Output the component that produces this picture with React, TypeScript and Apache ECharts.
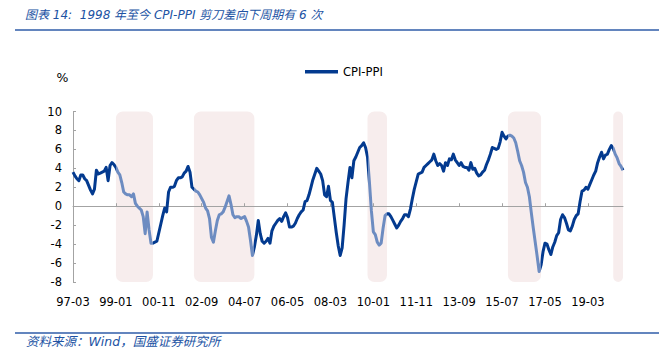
import { useEffect, useRef } from 'react';
import * as echarts from 'echarts';

// Monthly series, starting 1997-03
const startYear = 1997;
const startMonth = 3;

const cpiPpiGap: number[] = [
  3.6, 3.2, 2.9, 2.7, 3.3, 3.3, 2.9, 2.7, 2.2, 1.7, 1.3, 1.8,
  3.8, 3.4, 3.5, 3.6, 3.7, 4.1, 2.7, 4.3, 4.6, 4.4, 4.1, 3.6,
  3.3, 2.5, 1.5, 1.3, 1.2, 1.2, 1.0, 1.3, 0.3, 0.0, -0.2, -0.4,
  -1.1, -2.9, -0.6, -2.5, -3.9, -3.9, -3.8, -3.7, -2.8, -1.9, -1.0, -0.2,
  -0.6, 1.5, 2.0, 2.0, 2.1, 2.7, 3.0, 3.0, 3.1, 3.5, 3.7, 4.2,
  3.6, 2.0, 1.8, 1.6, 1.5, 1.2, 0.8, 0.4, -0.2, -0.5, -1.3, -3.3,
  -3.8, -2.6, -1.5, -0.9, -0.8, -0.6, -0.1, 0.5, 1.1, 0.2, -0.9, -1.2,
  -1.1, -1.1, -1.3, -1.2, -1.1, -1.6, -2.2, -3.6, -5.2, -4.3, -3.1, -1.5,
  -2.9, -3.7, -3.9, -3.7, -3.4, -3.9, -2.6, -2.1, -1.8, -1.5, -1.3, -1.6,
  -1.1, -0.7, -1.2, -2.2, -2.2, -2.1, -1.8, -1.3, -0.9, -0.6, -0.4, 0.5,
  0.6, 1.2, 2.0, 2.8, 3.4, 4.0, 3.7, 3.4, 2.7, 1.2, 1.0, 2.1,
  0.6, 0.4, -1.2, -2.8, -4.2, -5.2, -4.4, -2.0, 0.8, 2.5, 4.1, 3.0,
  4.8, 5.2, 5.7, 6.2, 6.4, 6.7, 6.2, 5.2, 2.5, -0.5, -2.7, -3.0,
  -3.8, -4.1, -3.9, -2.3, -1.0, -0.8, -0.8, -1.1, -1.5, -1.9, -2.3, -2.0,
  -1.6, -1.3, -0.9, -0.9, -1.1, -0.3, 0.8, 1.8, 2.6, 3.4, 3.5, 3.6,
  4.1, 4.3, 4.5, 4.7, 4.9, 5.5, 4.8, 4.3, 4.5, 4.3, 3.7, 4.6,
  4.3, 5.0, 4.9, 5.5, 4.9, 4.6, 4.3, 4.6, 4.2, 4.1, 4.1, 3.8,
  4.6, 3.9, 4.0, 3.5, 3.2, 3.3, 3.6, 3.8, 4.4, 4.9, 5.5, 6.2,
  6.1, 6.0, 6.1, 6.8, 7.8, 7.4, 7.1, 7.4, 7.5, 7.4, 7.2, 6.7,
  5.8, 4.8, 4.3, 3.6, 2.5, 2.0, 1.0, -0.7, -2.3, -3.8, -5.3, -6.9,
  -6.2, -4.8, -3.9, -4.0, -4.6, -5.1, -4.3, -3.8, -3.1, -2.8, -1.4, -0.9,
  -1.2, -1.8, -2.5, -2.6, -2.1, -1.4, -1.0, -0.8, 0.5, 1.6, 1.7, 2.0,
  1.8, 2.3, 2.8, 3.3, 3.7, 4.6, 5.2, 5.7, 5.0, 5.4, 5.5, 6.0,
  6.4, 6.1, 5.5, 5.1, 4.5, 4.2, 3.8,
];

// Category labels (yy-mm)
const months: string[] = cpiPpiGap.map((_, i) => {
  const t = startMonth - 1 + i;
  const y = startYear + Math.floor(t / 12);
  const m = (t % 12) + 1;
  return `${String(y % 100).padStart(2, '0')}-${String(m).padStart(2, '0')}`;
});

// Downward cycles (category indices)
const cycleStarts = [22, 62, 151, 223, 277];
const cycleEnds = [41, 93, 161, 240, 282];

const yMin = -8;
const yMax = 10;
const yInterval = 2;

const seriesName = 'CPI-PPI';
const titleText = '图表 14:  1998 年至今 CPI-PPI 剪刀差向下周期有 6 次';
const sourceText = '资料来源：Wind，国盛证券研究所';

const DARK = '#033a8f';
const LIGHT = '#6d8cc1';
const SHADE = '#f7eded';
const RULE = '#2f5ca8';
const AXIS = '#a3a3a3';
const FONT = "'DejaVu Sans', 'Noto Sans CJK SC', sans-serif";

export default function App() {
  const ref = useRef<HTMLDivElement>(null);

  useEffect(() => {
    if (!ref.current) return;
    const chart = echarts.init(ref.current, undefined, { renderer: 'svg' });

    const pieces = cycleStarts.map((s, i) => ({ gte: s, lte: cycleEnds[i], color: LIGHT }));

    chart.setOption({
      animation: false,
      backgroundColor: '#ffffff',
      textStyle: { fontFamily: FONT },
      grid: { left: 73, right: 36, top: 111.5, bottom: 77, containLabel: false },
      legend: {
        show: true,
        left: 305,
        top: 66,
        padding: 0,
        itemWidth: 33,
        itemHeight: 3.5,
        data: [{ name: seriesName, icon: 'rect', itemStyle: { color: DARK } }],
        textStyle: { fontSize: 11.5, color: '#000', fontFamily: FONT },
      },
      visualMap: {
        type: 'piecewise',
        show: false,
        dimension: 0,
        seriesIndex: 1,
        pieces,
        outOfRange: { color: DARK },
      },
      xAxis: [
        {
          type: 'category',
          data: months,
          boundaryGap: false,
          z: 3,
          axisLine: { onZero: true, lineStyle: { color: AXIS, width: 1 } },
          axisTick: { show: true, inside: true, length: 3, interval: 21, lineStyle: { color: AXIS } },
          axisLabel: { show: false },
          splitLine: { show: false },
        },
        {
          type: 'category',
          data: months,
          boundaryGap: false,
          position: 'bottom',
          axisLine: { show: false, onZero: false },
          axisTick: { show: false },
          axisLabel: {
            show: true,
            interval: 21,
            margin: 14,
            fontSize: 11.5,
            color: '#000',
            fontFamily: FONT,
          },
          splitLine: { show: false },
        },
      ],
      yAxis: {
        type: 'value',
        min: yMin,
        max: yMax,
        interval: yInterval,
        name: '%',
        nameLocation: 'end',
        nameGap: 28,
        nameTextStyle: { fontSize: 12.5, color: '#000', align: 'center', padding: [0, 21, 0, 0], fontFamily: FONT },
        axisLine: { show: true, lineStyle: { color: AXIS } },
        axisTick: { show: true, inside: true, length: 3, lineStyle: { color: AXIS } },
        axisLabel: { margin: 11, fontSize: 11.5, color: '#000', fontFamily: FONT },
        splitLine: { show: false },
      },
      series: [
        {
          type: 'custom',
          name: 'cycles',
          xAxisIndex: 0,
          z: 1,
          silent: true,
          encode: { x: [0, 1] },
          data: cycleStarts.map((s, i) => [s, cycleEnds[i]]),
          renderItem: (params: any, api: any) => {
            const p0 = api.coord([api.value(0), yMax]);
            const p1 = api.coord([api.value(1), yMin]);
            return {
              type: 'rect',
              shape: { x: p0[0], y: p0[1], width: p1[0] - p0[0], height: p1[1] - p0[1], r: 7 },
              style: { fill: SHADE },
            };
          },
        },
        {
          type: 'line',
          name: seriesName,
          xAxisIndex: 0,
          z: 5,
          data: cpiPpiGap,
          symbol: 'none',
          lineStyle: { width: 3, join: 'round' },
        },
      ],
      graphic: [
        {
          type: 'text',
          left: 25,
          top: 9,
          style: {
            text: titleText,
            fontSize: 12,
            fontStyle: 'italic',
            fill: '#2052a3',
            fontFamily: FONT,
          },
        },
        {
          type: 'line',
          shape: { x1: 15, y1: 30, x2: 659, y2: 30 },
          style: { stroke: RULE, lineWidth: 1.5 },
        },
        {
          type: 'line',
          shape: { x1: 15, y1: 333, x2: 659, y2: 333 },
          style: { stroke: RULE, lineWidth: 1.5 },
        },
        {
          type: 'text',
          left: 26,
          top: 335,
          style: {
            text: sourceText,
            fontSize: 12.5,
            fontStyle: 'italic',
            fill: '#2052a3',
            fontFamily: FONT,
          },
        },
      ],
    });

    return () => chart.dispose();
  }, []);

  return (
    <div
      ref={ref}
      style={{ position: 'absolute', left: 0, top: 0, width: 659, height: 359 }}
    />
  );
}
